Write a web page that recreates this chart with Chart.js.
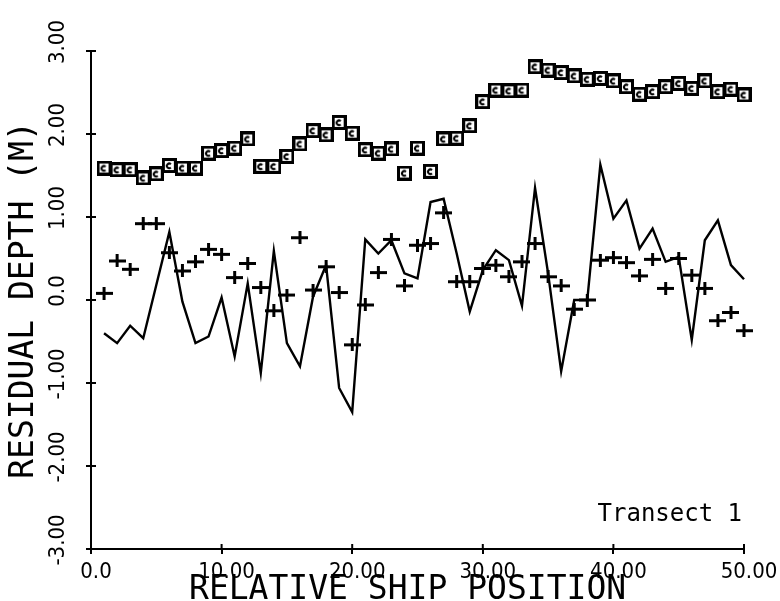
<!DOCTYPE html>
<html>
<head>
<meta charset="utf-8">
<title>Transect 1</title>
<script src="https://cdn.jsdelivr.net/npm/chart.js@4.4.1/dist/chart.umd.min.js"></script>
<style>
  html, body { margin: 0; padding: 0; background: #fff; }
  #wrap { width: 780px; height: 601px; }
</style>
</head>
<body>
<div id="wrap"><canvas id="grafico" width="780" height="601"></canvas></div>
<script>
// posiciones relativas del barco (eje x)
const shipPosition = [1, 2, 3, 4, 5, 6, 7, 8, 9, 10,
  11, 12, 13, 14, 15, 16, 17, 18, 19, 20,
  21, 22, 23, 24, 25, 26, 27, 28, 29, 30,
  31, 32, 33, 34, 35, 36, 37, 38, 39, 40,
  41, 42, 43, 44, 45, 46, 47, 48, 49, 50];

// serie de cuadrados (arriba)
const squareDepth = [1.59, 1.57, 1.57, 1.47, 1.52, 1.62, 1.59, 1.59, 1.77, 1.80,
  1.83, 1.94, 1.61, 1.61, 1.73, 1.88, 2.04, 1.99, 2.14, 2.01,
  1.81, 1.77, 1.82, 1.53, 1.83, 1.55, 1.94, 1.95, 2.10, 2.39,
  2.53, 2.52, 2.53, 2.81, 2.77, 2.74, 2.70, 2.66, 2.67, 2.64,
  2.57, 2.48, 2.51, 2.57, 2.61, 2.55, 2.64, 2.51, 2.54, 2.47];

// linea continua
const lineDepth = [-0.40, -0.52, -0.31, -0.46, 0.18, 0.82, -0.02, -0.52, -0.44, 0.03,
  -0.68, 0.20, -0.88, 0.59, -0.52, -0.80, 0.04, 0.42, -1.06, -1.35,
  0.73, 0.56, 0.72, 0.32, 0.26, 1.18, 1.22, 0.56, -0.14, 0.36,
  0.60, 0.48, -0.07, 1.35, 0.32, -0.86, 0.00, 0.00, 1.63, 0.98,
  1.20, 0.62, 0.86, 0.46, 0.52, -0.48, 0.72, 0.96, 0.42, 0.25];

// cruces
const plusDepth = [0.08, 0.47, 0.37, 0.92, 0.92, 0.57, 0.35, 0.46, 0.61, 0.55,
  0.27, 0.44, 0.15, -0.13, 0.06, 0.75, 0.12, 0.40, 0.09, -0.54,
  -0.06, 0.33, 0.73, 0.17, 0.66, 0.68, 1.05, 0.22, 0.22, 0.38,
  0.42, 0.28, 0.46, 0.68, 0.28, 0.17, -0.11, 0.00, 0.48, 0.51,
  0.45, 0.29, 0.49, 0.14, 0.50, 0.30, 0.14, -0.25, -0.15, -0.37];

const xTickLabels = ['0.0', '10.00', '20.00', '30.00', '40.00', '50.00'];
const yTickLabels = ['-3.00', '-2.00', '-1.00', '0.0', '1.00', '2.00', '3.00'];
const legendText = 'Transect 1';

const fuenteNum = '"Liberation Sans Narrow", "DejaVu Sans Condensed", sans-serif';
const fuenteMono = '"DejaVu Sans Mono", monospace';

// marcador cuadrado con la pequeña "c" dentro
function hacerCuadrado() {
  const c = document.createElement('canvas');
  c.width = 15; c.height = 15;
  const g = c.getContext('2d');
  g.fillStyle = '#000';
  g.fillRect(0, 0, 15, 15);
  g.fillStyle = '#fff';
  g.fillRect(3, 3, 9, 9);
  g.strokeStyle = '#000';
  g.lineWidth = 2;
  g.beginPath();
  g.arc(7.3, 7.8, 2.3, 0.25 * Math.PI, 1.75 * Math.PI);
  g.stroke();
  return c;
}

// marcador cruz, algo mas ancha que alta
function hacerCruz() {
  const c = document.createElement('canvas');
  c.width = 17; c.height = 13;
  const g = c.getContext('2d');
  g.fillStyle = '#000';
  g.fillRect(0, 5, 17, 3);
  g.fillRect(7, 0, 3, 13);
  return c;
}

const puntos = (vals) => shipPosition.map((x, i) => ({ x: x, y: vals[i] }));

// marcas pequeñas hacia adentro + texto "Transect 1"
const marcasYTexto = {
  id: 'marcasYTexto',
  afterDraw(chart) {
    const { ctx, chartArea, scales: { x, y } } = chart;
    ctx.save();
    ctx.strokeStyle = '#000';
    ctx.lineWidth = 2;
    ctx.beginPath();
    y.ticks.forEach(t => {
      const py = y.getPixelForValue(t.value);
      ctx.moveTo(chartArea.left, py);
      ctx.lineTo(chartArea.left + 5, py);
    });
    x.ticks.forEach(t => {
      const px = x.getPixelForValue(t.value);
      ctx.moveTo(px, chartArea.bottom);
      ctx.lineTo(px, chartArea.bottom - 5);
    });
    ctx.stroke();

    ctx.fillStyle = '#000';
    ctx.font = '24px ' + fuenteMono;
    ctx.textAlign = 'right';
    ctx.textBaseline = 'alphabetic';
    ctx.fillText(legendText, x.getPixelForValue(49.85), y.getPixelForValue(-2.66));
    ctx.restore();
  }
};

new Chart(document.getElementById('grafico'), {
  type: 'scatter',
  data: {
    datasets: [
      {
        data: puntos(lineDepth),
        showLine: true,
        borderColor: '#000',
        borderWidth: 2.4,
        pointRadius: 0,
        tension: 0,
        clip: false
      },
      {
        data: puntos(plusDepth),
        showLine: false,
        pointStyle: hacerCruz(),
        pointRadius: 7,
        clip: false
      },
      {
        data: puntos(squareDepth),
        showLine: false,
        pointStyle: hacerCuadrado(),
        pointRadius: 7,
        clip: false
      }
    ]
  },
  options: {
    responsive: false,
    animation: false,
    layout: { padding: { top: 51, right: 36, left: 0, bottom: 0 } },
    plugins: {
      legend: { display: false },
      tooltip: { enabled: false }
    },
    scales: {
      x: {
        type: 'linear',
        min: 0,
        max: 50,
        afterFit(scale) { scale.height = 52; },
        border: { color: '#000', width: 2 },
        grid: { drawOnChartArea: false, tickLength: 5, color: '#000', lineWidth: 2 },
        ticks: {
          stepSize: 10,
          autoSkip: false,
          maxRotation: 0,
          padding: 5,
          labelOffset: 5,
          color: '#000',
          font: { family: fuenteNum, size: 22 },
          callback: (v, i) => xTickLabels[i]
        },
        title: {
          display: true,
          text: 'RELATIVE SHIP POSITION ',
          color: '#000',
          font: { family: fuenteMono, size: 33, lineHeight: 1 },
          padding: { top: 0, bottom: -6 }
        }
      },
      y: {
        type: 'linear',
        min: -3,
        max: 3,
        afterFit(scale) { scale.width = 91; },
        border: { color: '#000', width: 2 },
        grid: { drawOnChartArea: false, tickLength: 5, color: '#000', lineWidth: 2 },
        ticks: {
          stepSize: 1,
          minRotation: 90,
          maxRotation: 90,
          crossAlign: 'center',
          padding: 2,
          labelOffset: -9,
          color: '#000',
          font: { family: fuenteNum, size: 22 },
          callback: (v, i) => yTickLabels[i]
        },
        title: {
          display: true,
          text: 'RESIDUAL DEPTH (M)',
          color: '#000',
          font: { family: fuenteMono, size: 33, lineHeight: 1 },
          padding: { top: 8, bottom: 0 }
        }
      }
    }
  },
  plugins: [marcasYTexto]
});
</script>
</body>
</html>
